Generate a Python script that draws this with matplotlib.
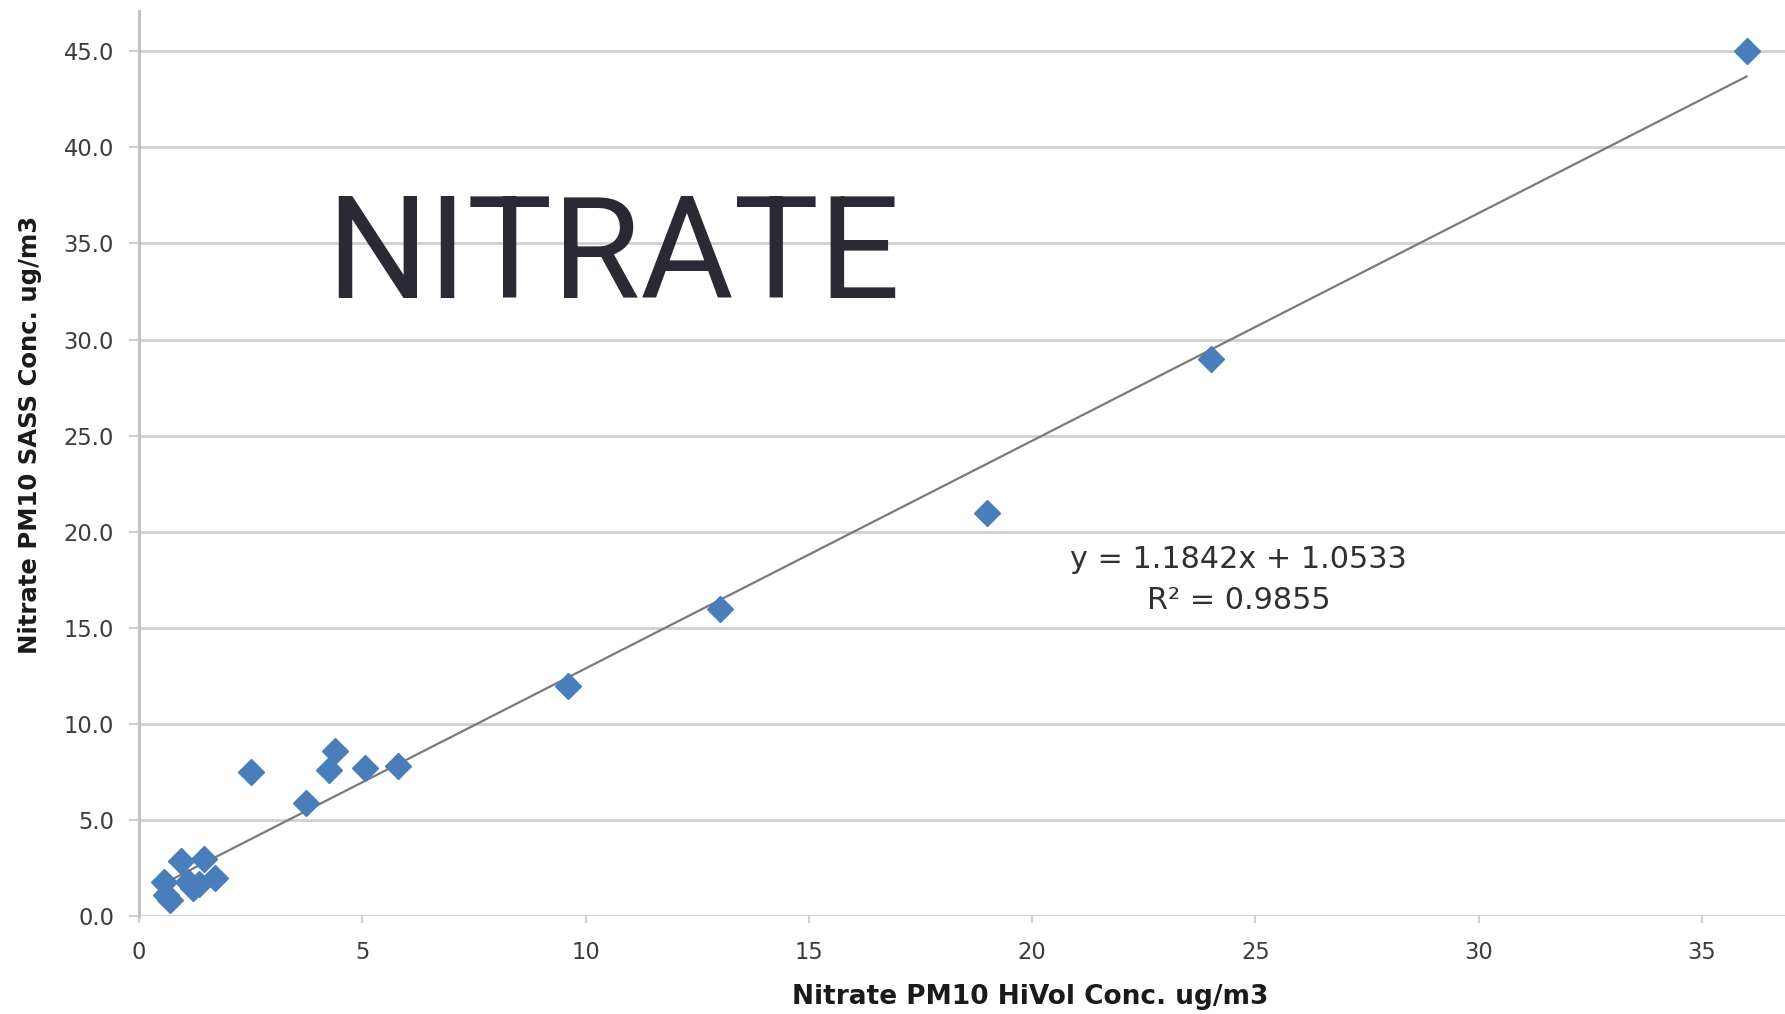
import matplotlib
matplotlib.use("Agg")
import matplotlib.pyplot as plt
import numpy as np

# Nitrate PM10 concentrations (ug/m3): HiVol sampler vs SASS sampler
hivol = [0.55, 0.6, 0.7, 0.95, 1.45, 1.1, 1.2, 1.35, 1.7, 2.5,
         3.75, 4.25, 4.4, 5.05, 5.8, 9.6, 13.0, 19.0, 24.0, 36.0]
sass = [1.8, 1.1, 0.85, 2.9, 3.0, 1.8, 1.5, 1.7, 2.0, 7.5,
        5.9, 7.6, 8.6, 7.7, 7.8, 12.0, 16.0, 21.0, 29.0, 45.0]

# Linear trendline coefficients
slope = 1.1842
intercept = 1.0533
r_squared = 0.9855

x_ticks = [0, 5, 10, 15, 20, 25, 30, 35]
y_ticks = [0, 5, 10, 15, 20, 25, 30, 35, 40, 45]

W, H = 1785, 1014
fig = plt.figure(figsize=(W / 100, H / 100), dpi=100)
fig.patch.set_facecolor("white")

left_px, right_px, top_px, bottom_px = 139, 1785, 11.4, 916.4
ax = fig.add_axes([left_px / W, 1 - bottom_px / H,
                   (right_px - left_px) / W, (bottom_px - top_px) / H])
ax.set_xlim(0, 36.86)
ax.set_ylim(0, 47.07)

grid_color = "#d0d0d0"
ax.set_yticks(y_ticks)
ax.set_xticks(x_ticks)
ax.yaxis.grid(True, color=grid_color, linewidth=2.0, zorder=0)
ax.xaxis.grid(False)
ax.set_axisbelow(True)

for side in ("top", "right", "bottom"):
    ax.spines[side].set_visible(False)
ax.spines["left"].set_color("#c4c4c4")
ax.spines["left"].set_linewidth(2.2)

tick_font = {"family": "DejaVu Sans", "size": 16.3}
ax.set_yticklabels([f"{v:.1f}" for v in y_ticks], fontdict=tick_font, color="#3c3c3c")
ax.set_xticklabels([str(v) for v in x_ticks], fontdict=tick_font, color="#3c3c3c")
ax.tick_params(axis="y", length=7, width=1.5, color=grid_color, pad=11)
ax.tick_params(axis="x", length=5, width=1.5, color=grid_color, pad=13)

# Trendline drawn from the fitted equation
xs = np.array([min(hivol), max(hivol)])
ax.plot(xs, slope * xs + intercept, color="#7a7a7a", linewidth=1.6, zorder=3)

# Data points
ax.plot(hivol, sass, linestyle="none", marker="D", markersize=12.8,
        markerfacecolor="#4a7ebb", markeredgecolor="#4a7ebb", zorder=4)

# Equation label
ax.text(24.63, 17.5, f"y = {slope}x + {intercept}\nR\u00b2 = {r_squared}",
        ha="center", va="center", multialignment="center",
        fontsize=21.8, family="DejaVu Sans", color="#303030",
        linespacing=1.55, zorder=5)

# Axis titles
label_font = dict(family="DejaVu Sans", weight="bold", color="#1a1a1a")
fig.text(1030 / W, 1 - 997 / H, "Nitrate PM10 HiVol Conc. ug/m3",
         ha="center", va="center", size=19, **label_font)
fig.text(30 / W, 1 - 435 / H, "Nitrate PM10 SASS Conc. ug/m3",
         ha="center", va="center", rotation=90, size=17.6, **label_font)

# Large title inside the chart
fig.text(326 / W, 1 - 298.5 / H, "NITRATE", ha="left", va="baseline",
         family="Roboto", size=103, color="#2a2a35")

fig.savefig("out.png", dpi=100, facecolor="white")
